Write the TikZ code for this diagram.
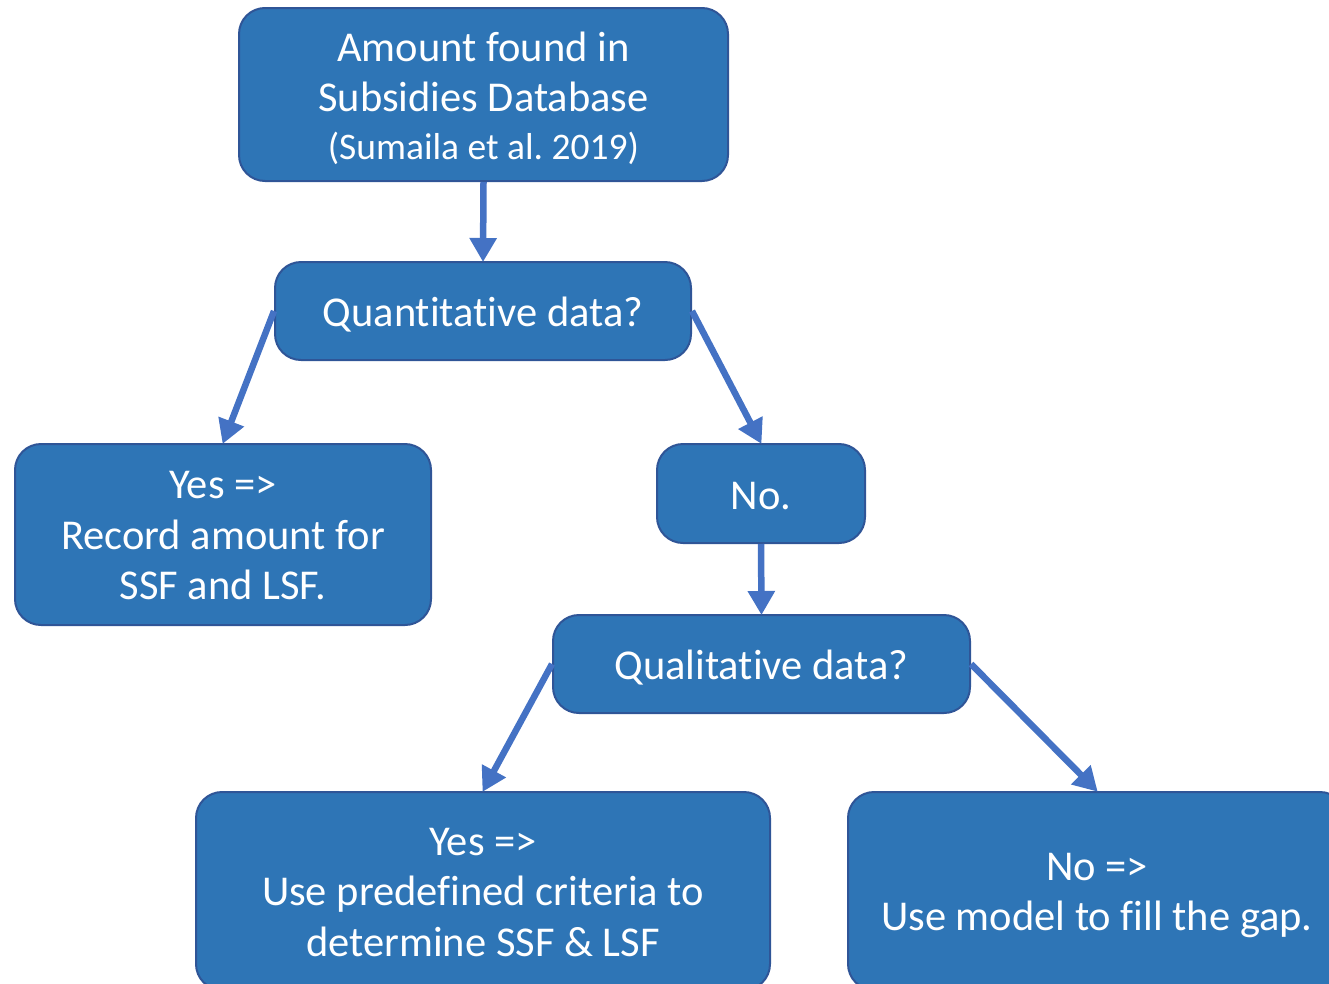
\documentclass[tikz,border=0pt]{standalone}
\usepackage{fontspec}
\setmainfont{Carlito}[Ligatures=NoCommon]
\frenchspacing
\usetikzlibrary{arrows.meta}
\definecolor{boxfill}{RGB}{46,117,182}
\definecolor{boxline}{RGB}{47,85,151}
\definecolor{arrowc}{RGB}{68,114,196}
\newcommand{\topstrut}[1]{\rule{0pt}{#1}}
\begin{document}
\begin{tikzpicture}[x=1pt,y=-1pt,
  box/.style={draw=boxline, line width=2pt, fill=boxfill, rounded corners=26pt,
    text=white, align=center, inner sep=0pt,
    font=\fontsize{42.5}{50.5}\selectfont},
  conn/.style={draw=arrowc, line width=6.5pt,
    -{Triangle[length=24pt,width=26pt]}, shorten >=-1pt}]
\useasboundingbox (0,0) rectangle (1329,983);
\clip (0,0) rectangle (1329,983);
\node[box, minimum width=489pt, minimum height=173pt] (top) at (483.5,94.5)
  {\topstrut{37pt}Amount found in\\Subsidies Database\\[-3pt]{\fontsize{37.5}{44}\selectfont (Sumaila et al. 2019)}};
\node[box, minimum width=416pt, minimum height=98pt] (quant) at (483,311) {\topstrut{37pt}Quantitative data?};
\node[box, minimum width=416pt, minimum height=181pt] (yesl) at (223,534.5)
  {\topstrut{30pt}Yes =>\\Record amount for\\SSF and LSF.};
\node[box, minimum width=208pt, minimum height=99pt] (no) at (761,493.5) {\topstrut{33pt}No.};
\node[box, minimum width=417pt, minimum height=98pt] (qual) at (761.5,664) {\topstrut{37pt}Qualitative data?};
\node[box, minimum width=574pt, minimum height=198pt] (yesb) at (483,891)
  {\topstrut{30pt}Yes =>\\Use predefined criteria to\\determine SSF \& LSF};
\node[box, minimum width=498pt, minimum height=198pt] (nob) at (1097,891)
  {\topstrut{36pt}No =>\\Use model to fill the gap.};
\draw[conn] (top.south) -- (quant.north);
\draw[conn] (quant.west) -- (yesl.north);
\draw[conn] (quant.east) -- (no.north);
\draw[conn] (no.south) -- (qual.north);
\draw[conn] (qual.west) -- (yesb.north);
\draw[conn] (qual.east) -- (nob.north);
\end{tikzpicture}
\end{document}
